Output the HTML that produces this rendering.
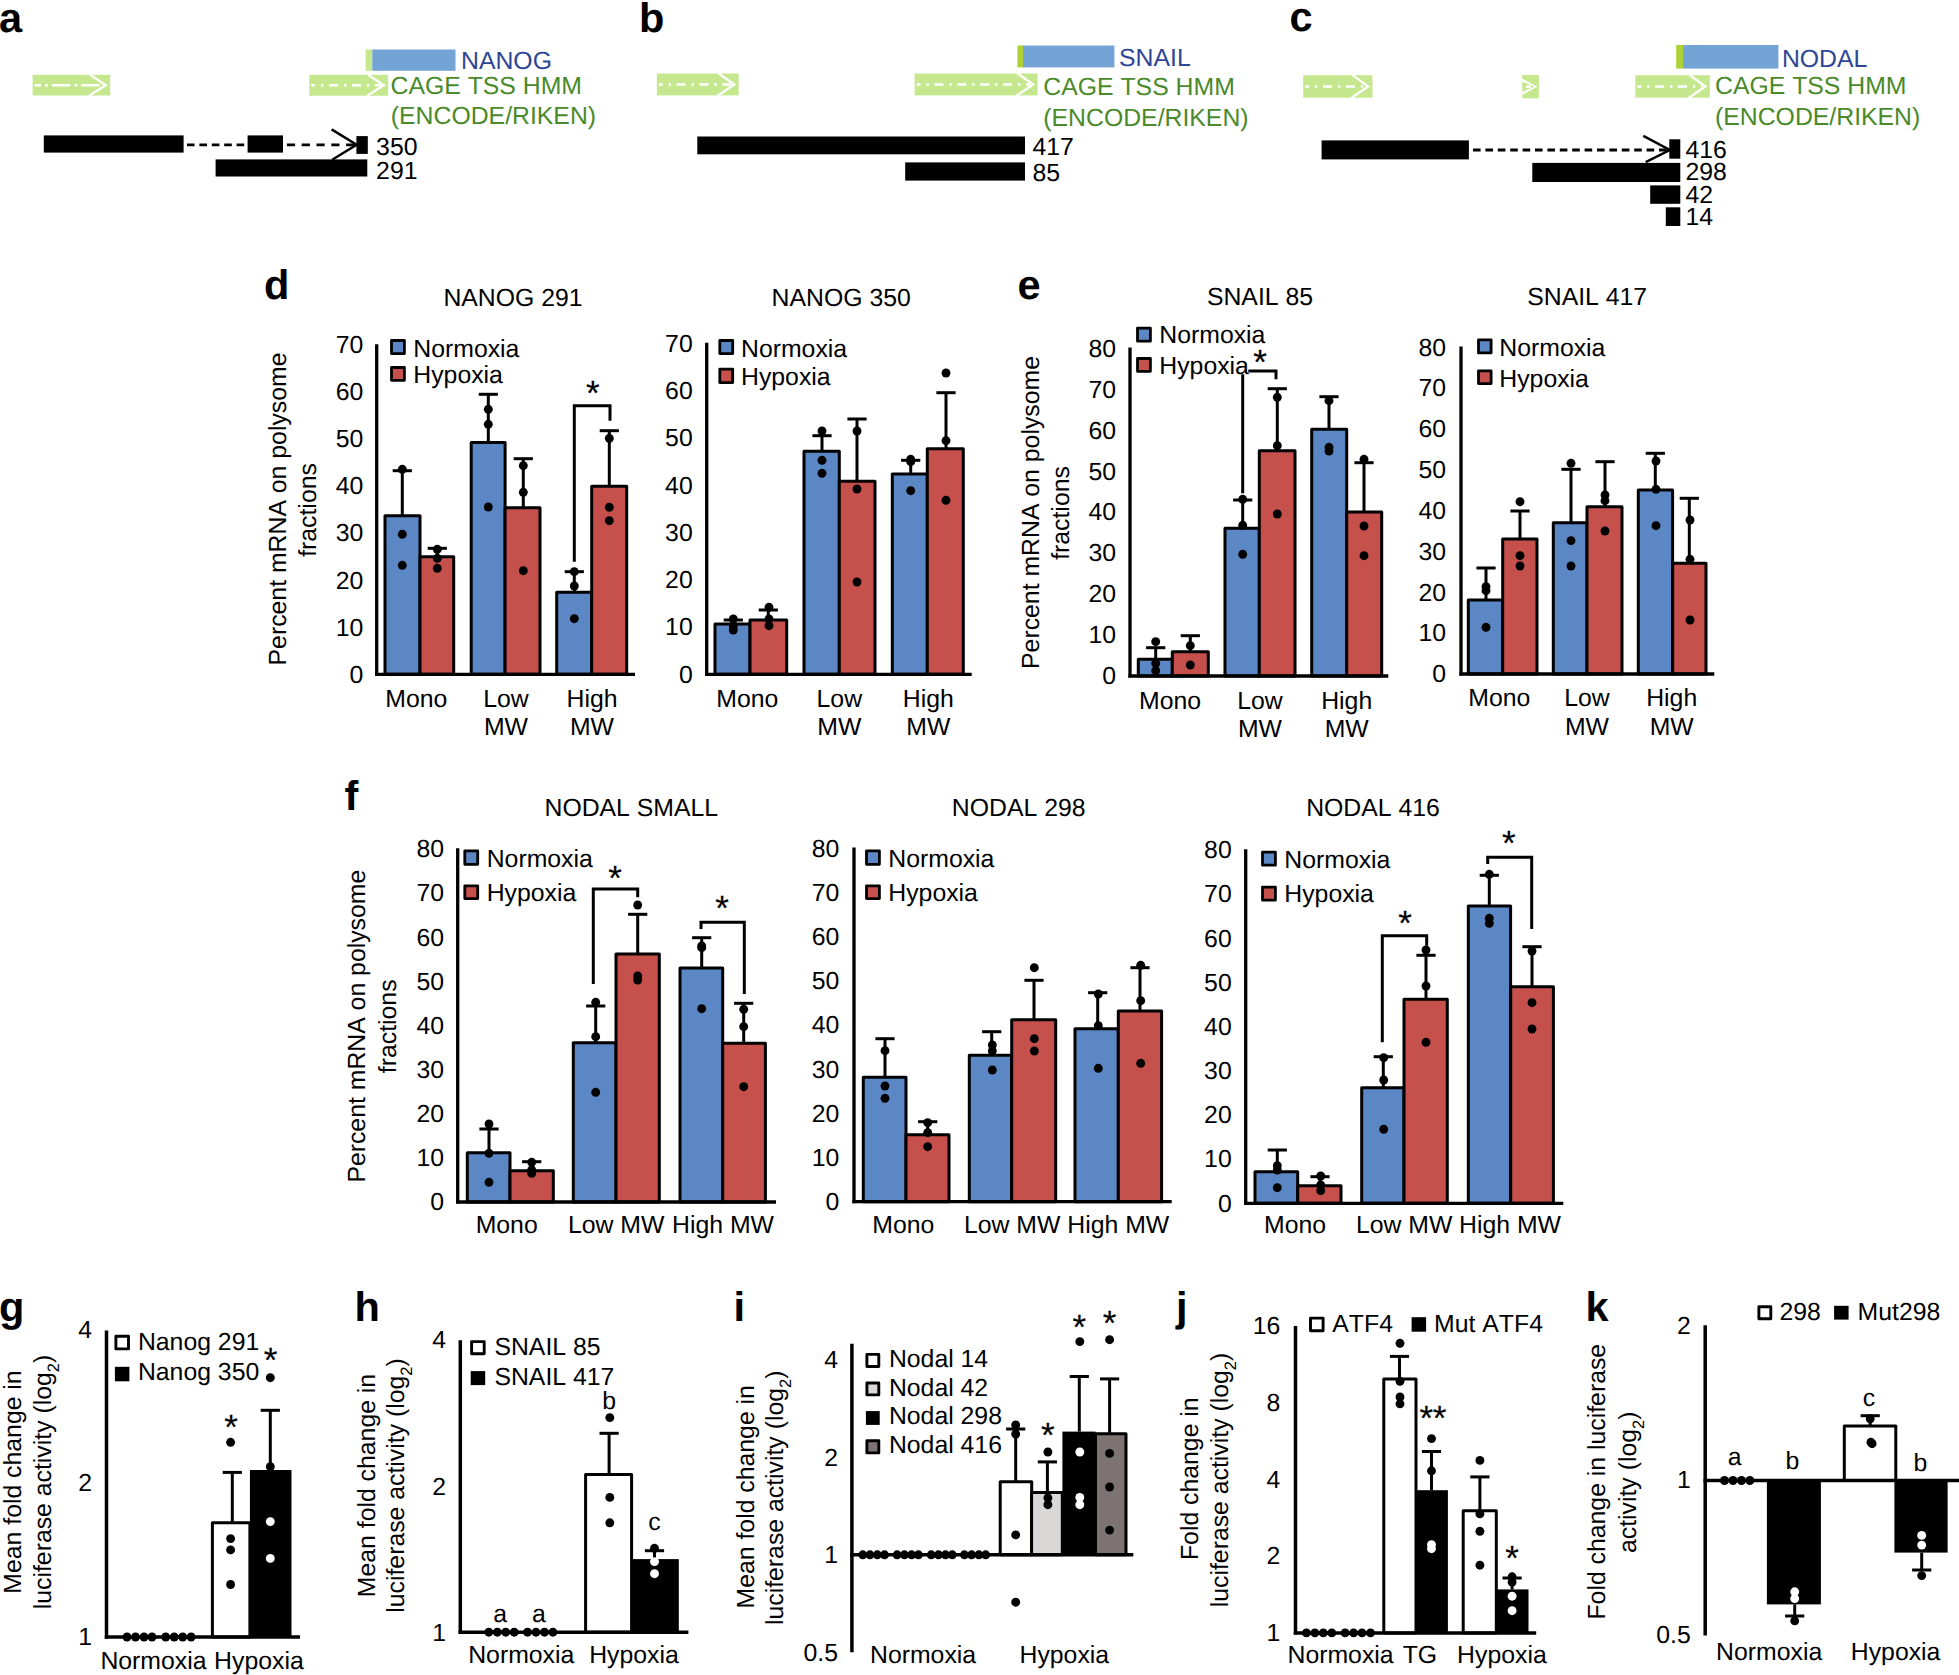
<!DOCTYPE html>
<html><head><meta charset="utf-8"><title>Figure</title>
<style>
html,body{margin:0;padding:0;background:#fff;}
svg{display:block;font-family:"Liberation Sans",Arial,Helvetica,sans-serif;font-kerning:none;text-rendering:geometricPrecision;}
</style></head>
<body>
<svg width="1959" height="1675" viewBox="0 0 1959 1675">
<rect width="1959" height="1675" fill="#fff"/>
<rect x="385.0" y="515.7" width="35.0" height="158.6" fill="#5b87c5" stroke="#000" stroke-width="3.0" stroke-linejoin="round"/>
<rect x="420.0" y="556.7" width="33.7" height="117.6" fill="#c5504c" stroke="#000" stroke-width="3.0" stroke-linejoin="round"/>
<rect x="471.2" y="442.5" width="33.9" height="231.8" fill="#5b87c5" stroke="#000" stroke-width="3.0" stroke-linejoin="round"/>
<rect x="505.1" y="507.7" width="34.9" height="166.6" fill="#c5504c" stroke="#000" stroke-width="3.0" stroke-linejoin="round"/>
<rect x="556.7" y="592.3" width="35.0" height="82.0" fill="#5b87c5" stroke="#000" stroke-width="3.0" stroke-linejoin="round"/>
<rect x="591.7" y="486.3" width="35.0" height="188.0" fill="#c5504c" stroke="#000" stroke-width="3.0" stroke-linejoin="round"/>
<line x1="376.7" y1="344.3" x2="376.7" y2="675.9" stroke="#000" stroke-width="3.3"/>
<line x1="375.1" y1="674.3" x2="635.0" y2="674.3" stroke="#000" stroke-width="3.3"/>
<line x1="402.3" y1="470.7" x2="402.3" y2="515.0" stroke="#000" stroke-width="3.0"/>
<line x1="392.7" y1="470.7" x2="411.9" y2="470.7" stroke="#000" stroke-width="3.0"/>
<line x1="437.3" y1="548.3" x2="437.3" y2="556.0" stroke="#000" stroke-width="3.0"/>
<line x1="427.7" y1="548.3" x2="446.9" y2="548.3" stroke="#000" stroke-width="3.0"/>
<line x1="488.3" y1="394.3" x2="488.3" y2="442.0" stroke="#000" stroke-width="3.0"/>
<line x1="478.7" y1="394.3" x2="497.9" y2="394.3" stroke="#000" stroke-width="3.0"/>
<line x1="523.3" y1="458.7" x2="523.3" y2="507.7" stroke="#000" stroke-width="3.0"/>
<line x1="513.7" y1="458.7" x2="532.9" y2="458.7" stroke="#000" stroke-width="3.0"/>
<line x1="574.3" y1="571.7" x2="574.3" y2="592.3" stroke="#000" stroke-width="3.0"/>
<line x1="564.7" y1="571.7" x2="583.9" y2="571.7" stroke="#000" stroke-width="3.0"/>
<line x1="609.3" y1="430.7" x2="609.3" y2="486.3" stroke="#000" stroke-width="3.0"/>
<line x1="599.7" y1="430.7" x2="618.9" y2="430.7" stroke="#000" stroke-width="3.0"/>
<circle cx="402.3" cy="469.3" r="4.45" fill="#000"/>
<circle cx="402.3" cy="534.3" r="4.45" fill="#000"/>
<circle cx="402.3" cy="565.3" r="4.45" fill="#000"/>
<circle cx="437.3" cy="549.3" r="4.45" fill="#000"/>
<circle cx="437.3" cy="558.3" r="4.45" fill="#000"/>
<circle cx="437.3" cy="568.3" r="4.45" fill="#000"/>
<circle cx="488.3" cy="409.3" r="4.45" fill="#000"/>
<circle cx="488.3" cy="424.3" r="4.45" fill="#000"/>
<circle cx="488.3" cy="507.0" r="4.45" fill="#000"/>
<circle cx="523.3" cy="465.7" r="4.45" fill="#000"/>
<circle cx="523.3" cy="492.3" r="4.45" fill="#000"/>
<circle cx="523.3" cy="570.7" r="4.45" fill="#000"/>
<circle cx="574.3" cy="571.7" r="4.45" fill="#000"/>
<circle cx="574.3" cy="586.0" r="4.45" fill="#000"/>
<circle cx="574.3" cy="618.7" r="4.45" fill="#000"/>
<circle cx="609.3" cy="438.3" r="4.45" fill="#000"/>
<circle cx="609.3" cy="507.3" r="4.45" fill="#000"/>
<circle cx="609.3" cy="520.7" r="4.45" fill="#000"/>
<polyline points="574.3,561.7 574.3,405.7 610.0,405.7 610.0,420.7" fill="none" stroke="#000" stroke-width="3.0"/>
<text x="592.7" y="405.3" font-size="35" text-anchor="middle" fill="#000" stroke="#000" stroke-width="0.2">*</text>
<text x="363.3" y="682.6" font-size="24.8" text-anchor="end" fill="#000">0</text>
<text x="363.3" y="635.5" font-size="24.8" text-anchor="end" fill="#000">10</text>
<text x="363.3" y="588.5" font-size="24.8" text-anchor="end" fill="#000">20</text>
<text x="363.3" y="541.4" font-size="24.8" text-anchor="end" fill="#000">30</text>
<text x="363.3" y="494.4" font-size="24.8" text-anchor="end" fill="#000">40</text>
<text x="363.3" y="447.4" font-size="24.8" text-anchor="end" fill="#000">50</text>
<text x="363.3" y="400.3" font-size="24.8" text-anchor="end" fill="#000">60</text>
<text x="363.3" y="353.3" font-size="24.8" text-anchor="end" fill="#000">70</text>
<rect x="391.5" y="340.5" width="12.9" height="13.1" fill="#5b87c5" stroke="#000" stroke-width="2.8" stroke-linejoin="round"/>
<text x="413.3" y="356.7" font-size="24.8" text-anchor="start" fill="#000">Normoxia</text>
<rect x="391.5" y="367.5" width="12.9" height="12.8" fill="#c5504c" stroke="#000" stroke-width="2.8" stroke-linejoin="round"/>
<text x="413.3" y="382.7" font-size="24.8" text-anchor="start" fill="#000">Hypoxia</text>
<text x="513.0" y="306.2" font-size="24.8" text-anchor="middle" fill="#000">NANOG 291</text>
<text x="416.3" y="706.9" font-size="24.8" text-anchor="middle" fill="#000">Mono</text>
<text x="506.0" y="706.9" font-size="24.8" text-anchor="middle" fill="#000">Low</text>
<text x="506.0" y="735.2" font-size="24.8" text-anchor="middle" fill="#000">MW</text>
<text x="592.0" y="706.9" font-size="24.8" text-anchor="middle" fill="#000">High</text>
<text x="592.0" y="735.2" font-size="24.8" text-anchor="middle" fill="#000">MW</text>
<text transform="translate(285.6,509.0) rotate(-90)" font-size="24.8" text-anchor="middle">Percent mRNA on polysome</text>
<text transform="translate(315.6,510.0) rotate(-90)" font-size="24.8" text-anchor="middle">fractions</text>
<rect x="715.0" y="624.0" width="35.0" height="50.3" fill="#5b87c5" stroke="#000" stroke-width="3.0" stroke-linejoin="round"/>
<rect x="750.0" y="620.0" width="36.7" height="54.3" fill="#c5504c" stroke="#000" stroke-width="3.0" stroke-linejoin="round"/>
<rect x="804.0" y="451.3" width="35.3" height="223.0" fill="#5b87c5" stroke="#000" stroke-width="3.0" stroke-linejoin="round"/>
<rect x="839.3" y="481.3" width="35.7" height="193.0" fill="#c5504c" stroke="#000" stroke-width="3.0" stroke-linejoin="round"/>
<rect x="892.3" y="474.0" width="35.0" height="200.3" fill="#5b87c5" stroke="#000" stroke-width="3.0" stroke-linejoin="round"/>
<rect x="927.3" y="448.7" width="36.0" height="225.6" fill="#c5504c" stroke="#000" stroke-width="3.0" stroke-linejoin="round"/>
<line x1="706.7" y1="342.8" x2="706.7" y2="675.9" stroke="#000" stroke-width="3.3"/>
<line x1="705.1" y1="674.3" x2="971.7" y2="674.3" stroke="#000" stroke-width="3.3"/>
<line x1="733.3" y1="620.0" x2="733.3" y2="624.0" stroke="#000" stroke-width="3.0"/>
<line x1="723.7" y1="620.0" x2="742.9" y2="620.0" stroke="#000" stroke-width="3.0"/>
<line x1="768.3" y1="610.0" x2="768.3" y2="620.0" stroke="#000" stroke-width="3.0"/>
<line x1="758.7" y1="610.0" x2="777.9" y2="610.0" stroke="#000" stroke-width="3.0"/>
<line x1="822.0" y1="435.7" x2="822.0" y2="451.3" stroke="#000" stroke-width="3.0"/>
<line x1="812.4" y1="435.7" x2="831.6" y2="435.7" stroke="#000" stroke-width="3.0"/>
<line x1="857.0" y1="419.0" x2="857.0" y2="481.3" stroke="#000" stroke-width="3.0"/>
<line x1="847.4" y1="419.0" x2="866.6" y2="419.0" stroke="#000" stroke-width="3.0"/>
<line x1="910.7" y1="460.3" x2="910.7" y2="474.0" stroke="#000" stroke-width="3.0"/>
<line x1="901.1" y1="460.3" x2="920.3" y2="460.3" stroke="#000" stroke-width="3.0"/>
<line x1="946.0" y1="392.7" x2="946.0" y2="448.7" stroke="#000" stroke-width="3.0"/>
<line x1="936.4" y1="392.7" x2="955.6" y2="392.7" stroke="#000" stroke-width="3.0"/>
<circle cx="733.3" cy="619.0" r="4.45" fill="#000"/>
<circle cx="733.3" cy="626.0" r="4.45" fill="#000"/>
<circle cx="733.3" cy="630.0" r="4.45" fill="#000"/>
<circle cx="769.0" cy="607.3" r="4.45" fill="#000"/>
<circle cx="769.0" cy="619.0" r="4.45" fill="#000"/>
<circle cx="769.0" cy="625.7" r="4.45" fill="#000"/>
<circle cx="822.0" cy="431.0" r="4.45" fill="#000"/>
<circle cx="822.0" cy="460.3" r="4.45" fill="#000"/>
<circle cx="822.0" cy="473.3" r="4.45" fill="#000"/>
<circle cx="857.0" cy="431.0" r="4.45" fill="#000"/>
<circle cx="857.0" cy="489.0" r="4.45" fill="#000"/>
<circle cx="857.0" cy="582.0" r="4.45" fill="#000"/>
<circle cx="910.7" cy="459.3" r="4.45" fill="#000"/>
<circle cx="910.7" cy="461.7" r="4.45" fill="#000"/>
<circle cx="910.7" cy="490.7" r="4.45" fill="#000"/>
<circle cx="946.0" cy="373.0" r="4.45" fill="#000"/>
<circle cx="946.0" cy="440.7" r="4.45" fill="#000"/>
<circle cx="946.0" cy="500.3" r="4.45" fill="#000"/>
<text x="692.7" y="682.6" font-size="24.8" text-anchor="end" fill="#000">0</text>
<text x="692.7" y="635.3" font-size="24.8" text-anchor="end" fill="#000">10</text>
<text x="692.7" y="588.1" font-size="24.8" text-anchor="end" fill="#000">20</text>
<text x="692.7" y="540.8" font-size="24.8" text-anchor="end" fill="#000">30</text>
<text x="692.7" y="493.5" font-size="24.8" text-anchor="end" fill="#000">40</text>
<text x="692.7" y="446.3" font-size="24.8" text-anchor="end" fill="#000">50</text>
<text x="692.7" y="399.0" font-size="24.8" text-anchor="end" fill="#000">60</text>
<text x="692.7" y="351.8" font-size="24.8" text-anchor="end" fill="#000">70</text>
<rect x="719.8" y="340.5" width="12.9" height="13.1" fill="#5b87c5" stroke="#000" stroke-width="2.8" stroke-linejoin="round"/>
<text x="741.0" y="356.7" font-size="24.8" text-anchor="start" fill="#000">Normoxia</text>
<rect x="719.8" y="369.1" width="12.9" height="13.5" fill="#c5504c" stroke="#000" stroke-width="2.8" stroke-linejoin="round"/>
<text x="741.0" y="385.0" font-size="24.8" text-anchor="start" fill="#000">Hypoxia</text>
<text x="841.2" y="306.2" font-size="24.8" text-anchor="middle" fill="#000">NANOG 350</text>
<text x="747.3" y="706.9" font-size="24.8" text-anchor="middle" fill="#000">Mono</text>
<text x="839.3" y="706.9" font-size="24.8" text-anchor="middle" fill="#000">Low</text>
<text x="839.3" y="735.2" font-size="24.8" text-anchor="middle" fill="#000">MW</text>
<text x="928.3" y="706.9" font-size="24.8" text-anchor="middle" fill="#000">High</text>
<text x="928.3" y="735.2" font-size="24.8" text-anchor="middle" fill="#000">MW</text>
<rect x="1138.3" y="659.3" width="34.0" height="16.7" fill="#5b87c5" stroke="#000" stroke-width="3.0" stroke-linejoin="round"/>
<rect x="1172.3" y="651.7" width="36.0" height="24.3" fill="#c5504c" stroke="#000" stroke-width="3.0" stroke-linejoin="round"/>
<rect x="1225.0" y="528.3" width="34.3" height="147.7" fill="#5b87c5" stroke="#000" stroke-width="3.0" stroke-linejoin="round"/>
<rect x="1259.3" y="450.7" width="35.7" height="225.3" fill="#c5504c" stroke="#000" stroke-width="3.0" stroke-linejoin="round"/>
<rect x="1311.7" y="429.3" width="35.0" height="246.7" fill="#5b87c5" stroke="#000" stroke-width="3.0" stroke-linejoin="round"/>
<rect x="1346.7" y="512.0" width="35.0" height="164.0" fill="#c5504c" stroke="#000" stroke-width="3.0" stroke-linejoin="round"/>
<line x1="1130.0" y1="347.6" x2="1130.0" y2="677.6" stroke="#000" stroke-width="3.3"/>
<line x1="1128.4" y1="676.0" x2="1388.3" y2="676.0" stroke="#000" stroke-width="3.3"/>
<line x1="1155.7" y1="647.7" x2="1155.7" y2="659.3" stroke="#000" stroke-width="3.0"/>
<line x1="1146.1" y1="647.7" x2="1165.3" y2="647.7" stroke="#000" stroke-width="3.0"/>
<line x1="1190.3" y1="635.7" x2="1190.3" y2="651.7" stroke="#000" stroke-width="3.0"/>
<line x1="1180.7" y1="635.7" x2="1199.9" y2="635.7" stroke="#000" stroke-width="3.0"/>
<line x1="1242.7" y1="500.0" x2="1242.7" y2="528.3" stroke="#000" stroke-width="3.0"/>
<line x1="1233.1" y1="500.0" x2="1252.3" y2="500.0" stroke="#000" stroke-width="3.0"/>
<line x1="1277.3" y1="388.7" x2="1277.3" y2="450.7" stroke="#000" stroke-width="3.0"/>
<line x1="1267.7" y1="388.7" x2="1286.9" y2="388.7" stroke="#000" stroke-width="3.0"/>
<line x1="1329.0" y1="396.7" x2="1329.0" y2="429.3" stroke="#000" stroke-width="3.0"/>
<line x1="1319.4" y1="396.7" x2="1338.6" y2="396.7" stroke="#000" stroke-width="3.0"/>
<line x1="1364.0" y1="462.7" x2="1364.0" y2="512.0" stroke="#000" stroke-width="3.0"/>
<line x1="1354.4" y1="462.7" x2="1373.6" y2="462.7" stroke="#000" stroke-width="3.0"/>
<circle cx="1155.7" cy="641.7" r="4.45" fill="#000"/>
<circle cx="1155.7" cy="663.3" r="4.45" fill="#000"/>
<circle cx="1155.7" cy="670.7" r="4.45" fill="#000"/>
<circle cx="1190.3" cy="645.7" r="4.45" fill="#000"/>
<circle cx="1190.3" cy="665.0" r="4.45" fill="#000"/>
<circle cx="1242.7" cy="499.3" r="4.45" fill="#000"/>
<circle cx="1242.7" cy="525.3" r="4.45" fill="#000"/>
<circle cx="1242.7" cy="554.3" r="4.45" fill="#000"/>
<circle cx="1277.3" cy="397.3" r="4.45" fill="#000"/>
<circle cx="1277.3" cy="445.7" r="4.45" fill="#000"/>
<circle cx="1277.3" cy="514.0" r="4.45" fill="#000"/>
<circle cx="1329.0" cy="400.7" r="4.45" fill="#000"/>
<circle cx="1329.0" cy="447.3" r="4.45" fill="#000"/>
<circle cx="1329.0" cy="451.0" r="4.45" fill="#000"/>
<circle cx="1364.0" cy="459.3" r="4.45" fill="#000"/>
<circle cx="1364.0" cy="526.0" r="4.45" fill="#000"/>
<circle cx="1364.0" cy="555.7" r="4.45" fill="#000"/>
<polyline points="1242.7,493.3 1242.7,374.3" fill="none" stroke="#000" stroke-width="3.0"/>
<polyline points="1248.3,371.0 1276.0,371.0 1276.0,379.3" fill="none" stroke="#000" stroke-width="3.0"/>
<text x="1260.0" y="373.6" font-size="35" text-anchor="middle" fill="#000" stroke="#000" stroke-width="0.2">*</text>
<text x="1116.0" y="684.3" font-size="24.8" text-anchor="end" fill="#000">0</text>
<text x="1116.0" y="643.3" font-size="24.8" text-anchor="end" fill="#000">10</text>
<text x="1116.0" y="602.4" font-size="24.8" text-anchor="end" fill="#000">20</text>
<text x="1116.0" y="561.4" font-size="24.8" text-anchor="end" fill="#000">30</text>
<text x="1116.0" y="520.4" font-size="24.8" text-anchor="end" fill="#000">40</text>
<text x="1116.0" y="479.5" font-size="24.8" text-anchor="end" fill="#000">50</text>
<text x="1116.0" y="438.5" font-size="24.8" text-anchor="end" fill="#000">60</text>
<text x="1116.0" y="397.5" font-size="24.8" text-anchor="end" fill="#000">70</text>
<text x="1116.0" y="356.6" font-size="24.8" text-anchor="end" fill="#000">80</text>
<rect x="1137.5" y="328.1" width="12.9" height="13.1" fill="#5b87c5" stroke="#000" stroke-width="2.8" stroke-linejoin="round"/>
<text x="1159.3" y="343.0" font-size="24.8" text-anchor="start" fill="#000">Normoxia</text>
<rect x="1137.5" y="358.5" width="12.9" height="12.8" fill="#c5504c" stroke="#000" stroke-width="2.8" stroke-linejoin="round"/>
<text x="1159.3" y="373.7" font-size="24.8" text-anchor="start" fill="#000">Hypoxia</text>
<text x="1260.0" y="304.8" font-size="24.8" text-anchor="middle" fill="#000">SNAIL 85</text>
<text x="1170.0" y="708.9" font-size="24.8" text-anchor="middle" fill="#000">Mono</text>
<text x="1260.0" y="708.9" font-size="24.8" text-anchor="middle" fill="#000">Low</text>
<text x="1260.0" y="737.2" font-size="24.8" text-anchor="middle" fill="#000">MW</text>
<text x="1346.7" y="708.9" font-size="24.8" text-anchor="middle" fill="#000">High</text>
<text x="1346.7" y="737.2" font-size="24.8" text-anchor="middle" fill="#000">MW</text>
<text transform="translate(1039.3,512.5) rotate(-90)" font-size="24.8" text-anchor="middle">Percent mRNA on polysome</text>
<text transform="translate(1069.3,513.0) rotate(-90)" font-size="24.8" text-anchor="middle">fractions</text>
<rect x="1468.3" y="600.0" width="34.3" height="74.0" fill="#5b87c5" stroke="#000" stroke-width="3.0" stroke-linejoin="round"/>
<rect x="1502.7" y="539.0" width="34.3" height="135.0" fill="#c5504c" stroke="#000" stroke-width="3.0" stroke-linejoin="round"/>
<rect x="1553.3" y="522.7" width="33.7" height="151.3" fill="#5b87c5" stroke="#000" stroke-width="3.0" stroke-linejoin="round"/>
<rect x="1587.0" y="506.7" width="35.0" height="167.3" fill="#c5504c" stroke="#000" stroke-width="3.0" stroke-linejoin="round"/>
<rect x="1638.3" y="490.0" width="34.3" height="184.0" fill="#5b87c5" stroke="#000" stroke-width="3.0" stroke-linejoin="round"/>
<rect x="1672.7" y="563.3" width="33.3" height="110.7" fill="#c5504c" stroke="#000" stroke-width="3.0" stroke-linejoin="round"/>
<line x1="1461.0" y1="346.6" x2="1461.0" y2="675.6" stroke="#000" stroke-width="3.3"/>
<line x1="1459.4" y1="674.0" x2="1714.3" y2="674.0" stroke="#000" stroke-width="3.3"/>
<line x1="1486.0" y1="568.0" x2="1486.0" y2="600.0" stroke="#000" stroke-width="3.0"/>
<line x1="1476.4" y1="568.0" x2="1495.6" y2="568.0" stroke="#000" stroke-width="3.0"/>
<line x1="1520.0" y1="511.0" x2="1520.0" y2="539.0" stroke="#000" stroke-width="3.0"/>
<line x1="1510.4" y1="511.0" x2="1529.6" y2="511.0" stroke="#000" stroke-width="3.0"/>
<line x1="1571.0" y1="469.3" x2="1571.0" y2="522.7" stroke="#000" stroke-width="3.0"/>
<line x1="1561.4" y1="469.3" x2="1580.6" y2="469.3" stroke="#000" stroke-width="3.0"/>
<line x1="1605.0" y1="461.7" x2="1605.0" y2="506.7" stroke="#000" stroke-width="3.0"/>
<line x1="1595.4" y1="461.7" x2="1614.6" y2="461.7" stroke="#000" stroke-width="3.0"/>
<line x1="1655.3" y1="453.3" x2="1655.3" y2="490.0" stroke="#000" stroke-width="3.0"/>
<line x1="1645.7" y1="453.3" x2="1664.9" y2="453.3" stroke="#000" stroke-width="3.0"/>
<line x1="1689.3" y1="498.3" x2="1689.3" y2="563.3" stroke="#000" stroke-width="3.0"/>
<line x1="1679.7" y1="498.3" x2="1698.9" y2="498.3" stroke="#000" stroke-width="3.0"/>
<circle cx="1486.0" cy="586.7" r="4.45" fill="#000"/>
<circle cx="1486.0" cy="590.7" r="4.45" fill="#000"/>
<circle cx="1486.0" cy="627.3" r="4.45" fill="#000"/>
<circle cx="1520.0" cy="501.7" r="4.45" fill="#000"/>
<circle cx="1520.0" cy="555.7" r="4.45" fill="#000"/>
<circle cx="1520.0" cy="566.0" r="4.45" fill="#000"/>
<circle cx="1571.0" cy="463.3" r="4.45" fill="#000"/>
<circle cx="1571.0" cy="540.7" r="4.45" fill="#000"/>
<circle cx="1571.0" cy="566.0" r="4.45" fill="#000"/>
<circle cx="1605.0" cy="495.0" r="4.45" fill="#000"/>
<circle cx="1605.0" cy="500.7" r="4.45" fill="#000"/>
<circle cx="1605.0" cy="531.0" r="4.45" fill="#000"/>
<circle cx="1656.0" cy="461.0" r="4.45" fill="#000"/>
<circle cx="1656.0" cy="489.3" r="4.45" fill="#000"/>
<circle cx="1656.0" cy="525.7" r="4.45" fill="#000"/>
<circle cx="1690.0" cy="520.0" r="4.45" fill="#000"/>
<circle cx="1690.0" cy="559.3" r="4.45" fill="#000"/>
<circle cx="1690.0" cy="620.0" r="4.45" fill="#000"/>
<text x="1446.0" y="682.3" font-size="24.8" text-anchor="end" fill="#000">0</text>
<text x="1446.0" y="641.4" font-size="24.8" text-anchor="end" fill="#000">10</text>
<text x="1446.0" y="600.6" font-size="24.8" text-anchor="end" fill="#000">20</text>
<text x="1446.0" y="559.8" font-size="24.8" text-anchor="end" fill="#000">30</text>
<text x="1446.0" y="518.9" font-size="24.8" text-anchor="end" fill="#000">40</text>
<text x="1446.0" y="478.1" font-size="24.8" text-anchor="end" fill="#000">50</text>
<text x="1446.0" y="437.3" font-size="24.8" text-anchor="end" fill="#000">60</text>
<text x="1446.0" y="396.4" font-size="24.8" text-anchor="end" fill="#000">70</text>
<text x="1446.0" y="355.6" font-size="24.8" text-anchor="end" fill="#000">80</text>
<rect x="1478.5" y="339.8" width="12.6" height="13.1" fill="#5b87c5" stroke="#000" stroke-width="2.8" stroke-linejoin="round"/>
<text x="1499.3" y="355.7" font-size="24.8" text-anchor="start" fill="#000">Normoxia</text>
<rect x="1478.5" y="370.8" width="12.6" height="12.8" fill="#c5504c" stroke="#000" stroke-width="2.8" stroke-linejoin="round"/>
<text x="1499.3" y="386.7" font-size="24.8" text-anchor="start" fill="#000">Hypoxia</text>
<text x="1587.2" y="304.8" font-size="24.8" text-anchor="middle" fill="#000">SNAIL 417</text>
<text x="1499.3" y="706.2" font-size="24.8" text-anchor="middle" fill="#000">Mono</text>
<text x="1587.0" y="706.2" font-size="24.8" text-anchor="middle" fill="#000">Low</text>
<text x="1587.0" y="734.5" font-size="24.8" text-anchor="middle" fill="#000">MW</text>
<text x="1671.7" y="706.2" font-size="24.8" text-anchor="middle" fill="#000">High</text>
<text x="1671.7" y="734.5" font-size="24.8" text-anchor="middle" fill="#000">MW</text>
<rect x="467.3" y="1152.7" width="42.7" height="49.3" fill="#5b87c5" stroke="#000" stroke-width="3.0" stroke-linejoin="round"/>
<rect x="510.0" y="1170.7" width="43.3" height="31.3" fill="#c5504c" stroke="#000" stroke-width="3.0" stroke-linejoin="round"/>
<rect x="573.3" y="1042.7" width="42.7" height="159.3" fill="#5b87c5" stroke="#000" stroke-width="3.0" stroke-linejoin="round"/>
<rect x="616.0" y="954.0" width="43.3" height="248.0" fill="#c5504c" stroke="#000" stroke-width="3.0" stroke-linejoin="round"/>
<rect x="680.0" y="968.0" width="42.7" height="234.0" fill="#5b87c5" stroke="#000" stroke-width="3.0" stroke-linejoin="round"/>
<rect x="722.7" y="1043.3" width="42.7" height="158.7" fill="#c5504c" stroke="#000" stroke-width="3.0" stroke-linejoin="round"/>
<line x1="457.7" y1="848.3" x2="457.7" y2="1203.6" stroke="#000" stroke-width="3.3"/>
<line x1="456.1" y1="1202.0" x2="776.0" y2="1202.0" stroke="#000" stroke-width="3.3"/>
<line x1="489.0" y1="1129.0" x2="489.0" y2="1152.7" stroke="#000" stroke-width="3.0"/>
<line x1="479.4" y1="1129.0" x2="498.6" y2="1129.0" stroke="#000" stroke-width="3.0"/>
<line x1="531.7" y1="1161.7" x2="531.7" y2="1170.7" stroke="#000" stroke-width="3.0"/>
<line x1="522.1" y1="1161.7" x2="541.3" y2="1161.7" stroke="#000" stroke-width="3.0"/>
<line x1="595.7" y1="1006.0" x2="595.7" y2="1042.7" stroke="#000" stroke-width="3.0"/>
<line x1="586.1" y1="1006.0" x2="605.3" y2="1006.0" stroke="#000" stroke-width="3.0"/>
<line x1="637.7" y1="914.3" x2="637.7" y2="954.0" stroke="#000" stroke-width="3.0"/>
<line x1="628.1" y1="914.3" x2="647.3" y2="914.3" stroke="#000" stroke-width="3.0"/>
<line x1="701.7" y1="937.7" x2="701.7" y2="968.0" stroke="#000" stroke-width="3.0"/>
<line x1="692.1" y1="937.7" x2="711.3" y2="937.7" stroke="#000" stroke-width="3.0"/>
<line x1="743.7" y1="1003.3" x2="743.7" y2="1043.3" stroke="#000" stroke-width="3.0"/>
<line x1="734.1" y1="1003.3" x2="753.3" y2="1003.3" stroke="#000" stroke-width="3.0"/>
<circle cx="489.0" cy="1124.0" r="4.45" fill="#000"/>
<circle cx="489.0" cy="1153.3" r="4.45" fill="#000"/>
<circle cx="489.0" cy="1182.3" r="4.45" fill="#000"/>
<circle cx="531.7" cy="1162.3" r="4.45" fill="#000"/>
<circle cx="531.7" cy="1170.0" r="4.45" fill="#000"/>
<circle cx="531.7" cy="1173.3" r="4.45" fill="#000"/>
<circle cx="595.7" cy="1002.3" r="4.45" fill="#000"/>
<circle cx="595.7" cy="1036.7" r="4.45" fill="#000"/>
<circle cx="595.7" cy="1092.3" r="4.45" fill="#000"/>
<circle cx="637.7" cy="905.0" r="4.45" fill="#000"/>
<circle cx="637.7" cy="976.0" r="4.45" fill="#000"/>
<circle cx="637.7" cy="980.0" r="4.45" fill="#000"/>
<circle cx="701.7" cy="946.0" r="4.45" fill="#000"/>
<circle cx="701.7" cy="947.7" r="4.45" fill="#000"/>
<circle cx="701.7" cy="1008.7" r="4.45" fill="#000"/>
<circle cx="743.7" cy="1009.3" r="4.45" fill="#000"/>
<circle cx="743.7" cy="1026.7" r="4.45" fill="#000"/>
<circle cx="743.7" cy="1086.7" r="4.45" fill="#000"/>
<polyline points="593.3,984.0 593.3,889.0 637.7,889.0 637.7,897.3" fill="none" stroke="#000" stroke-width="3.0"/>
<polyline points="701.0,929.0 701.0,922.3 744.3,922.3 744.3,994.0" fill="none" stroke="#000" stroke-width="3.0"/>
<text x="615.0" y="890.3" font-size="35" text-anchor="middle" fill="#000" stroke="#000" stroke-width="0.2">*</text>
<text x="722.0" y="920.3" font-size="35" text-anchor="middle" fill="#000" stroke="#000" stroke-width="0.2">*</text>
<text x="444.0" y="1210.3" font-size="24.8" text-anchor="end" fill="#000">0</text>
<text x="444.0" y="1166.2" font-size="24.8" text-anchor="end" fill="#000">10</text>
<text x="444.0" y="1122.0" font-size="24.8" text-anchor="end" fill="#000">20</text>
<text x="444.0" y="1077.9" font-size="24.8" text-anchor="end" fill="#000">30</text>
<text x="444.0" y="1033.8" font-size="24.8" text-anchor="end" fill="#000">40</text>
<text x="444.0" y="989.7" font-size="24.8" text-anchor="end" fill="#000">50</text>
<text x="444.0" y="945.5" font-size="24.8" text-anchor="end" fill="#000">60</text>
<text x="444.0" y="901.4" font-size="24.8" text-anchor="end" fill="#000">70</text>
<text x="444.0" y="857.3" font-size="24.8" text-anchor="end" fill="#000">80</text>
<rect x="464.8" y="850.8" width="12.9" height="13.5" fill="#5b87c5" stroke="#000" stroke-width="2.8" stroke-linejoin="round"/>
<text x="486.7" y="866.7" font-size="24.8" text-anchor="start" fill="#000">Normoxia</text>
<rect x="464.8" y="885.8" width="12.9" height="12.8" fill="#c5504c" stroke="#000" stroke-width="2.8" stroke-linejoin="round"/>
<text x="486.7" y="901.0" font-size="24.8" text-anchor="start" fill="#000">Hypoxia</text>
<text x="631.3" y="816.2" font-size="24.8" text-anchor="middle" fill="#000">NODAL SMALL</text>
<text x="506.7" y="1233.3" font-size="24.8" text-anchor="middle" fill="#000">Mono</text>
<text x="616.2" y="1233.3" font-size="24.8" text-anchor="middle" fill="#000">Low MW</text>
<text x="723.0" y="1233.3" font-size="24.8" text-anchor="middle" fill="#000">High MW</text>
<text transform="translate(364.9,1026.2) rotate(-90)" font-size="24.8" text-anchor="middle">Percent mRNA on polysome</text>
<text transform="translate(395.6,1026.3) rotate(-90)" font-size="24.8" text-anchor="middle">fractions</text>
<rect x="863.3" y="1077.3" width="42.7" height="124.4" fill="#5b87c5" stroke="#000" stroke-width="3.0" stroke-linejoin="round"/>
<rect x="906.0" y="1134.7" width="43.0" height="67.0" fill="#c5504c" stroke="#000" stroke-width="3.0" stroke-linejoin="round"/>
<rect x="969.3" y="1055.3" width="42.3" height="146.4" fill="#5b87c5" stroke="#000" stroke-width="3.0" stroke-linejoin="round"/>
<rect x="1011.7" y="1019.7" width="44.0" height="182.0" fill="#c5504c" stroke="#000" stroke-width="3.0" stroke-linejoin="round"/>
<rect x="1075.0" y="1028.7" width="43.3" height="173.0" fill="#5b87c5" stroke="#000" stroke-width="3.0" stroke-linejoin="round"/>
<rect x="1118.3" y="1011.0" width="43.3" height="190.7" fill="#c5504c" stroke="#000" stroke-width="3.0" stroke-linejoin="round"/>
<line x1="854.0" y1="847.6" x2="854.0" y2="1203.3" stroke="#000" stroke-width="3.3"/>
<line x1="852.4" y1="1201.7" x2="1171.7" y2="1201.7" stroke="#000" stroke-width="3.3"/>
<line x1="885.0" y1="1038.7" x2="885.0" y2="1077.3" stroke="#000" stroke-width="3.0"/>
<line x1="875.4" y1="1038.7" x2="894.6" y2="1038.7" stroke="#000" stroke-width="3.0"/>
<line x1="927.7" y1="1121.7" x2="927.7" y2="1134.7" stroke="#000" stroke-width="3.0"/>
<line x1="918.1" y1="1121.7" x2="937.3" y2="1121.7" stroke="#000" stroke-width="3.0"/>
<line x1="991.7" y1="1031.7" x2="991.7" y2="1055.3" stroke="#000" stroke-width="3.0"/>
<line x1="982.1" y1="1031.7" x2="1001.3" y2="1031.7" stroke="#000" stroke-width="3.0"/>
<line x1="1034.0" y1="980.3" x2="1034.0" y2="1019.7" stroke="#000" stroke-width="3.0"/>
<line x1="1024.4" y1="980.3" x2="1043.6" y2="980.3" stroke="#000" stroke-width="3.0"/>
<line x1="1097.7" y1="992.7" x2="1097.7" y2="1028.7" stroke="#000" stroke-width="3.0"/>
<line x1="1088.1" y1="992.7" x2="1107.3" y2="992.7" stroke="#000" stroke-width="3.0"/>
<line x1="1140.0" y1="967.7" x2="1140.0" y2="1011.0" stroke="#000" stroke-width="3.0"/>
<line x1="1130.4" y1="967.7" x2="1149.6" y2="967.7" stroke="#000" stroke-width="3.0"/>
<circle cx="885.0" cy="1050.7" r="4.45" fill="#000"/>
<circle cx="885.0" cy="1086.0" r="4.45" fill="#000"/>
<circle cx="885.0" cy="1098.3" r="4.45" fill="#000"/>
<circle cx="927.7" cy="1122.7" r="4.45" fill="#000"/>
<circle cx="927.7" cy="1132.7" r="4.45" fill="#000"/>
<circle cx="927.7" cy="1146.7" r="4.45" fill="#000"/>
<circle cx="992.3" cy="1045.0" r="4.45" fill="#000"/>
<circle cx="992.3" cy="1051.0" r="4.45" fill="#000"/>
<circle cx="992.3" cy="1070.0" r="4.45" fill="#000"/>
<circle cx="1034.3" cy="967.7" r="4.45" fill="#000"/>
<circle cx="1034.3" cy="1038.7" r="4.45" fill="#000"/>
<circle cx="1034.3" cy="1051.0" r="4.45" fill="#000"/>
<circle cx="1098.3" cy="994.0" r="4.45" fill="#000"/>
<circle cx="1098.3" cy="1025.7" r="4.45" fill="#000"/>
<circle cx="1098.3" cy="1068.3" r="4.45" fill="#000"/>
<circle cx="1140.7" cy="965.3" r="4.45" fill="#000"/>
<circle cx="1140.7" cy="1000.7" r="4.45" fill="#000"/>
<circle cx="1140.7" cy="1063.3" r="4.45" fill="#000"/>
<text x="839.3" y="1210.0" font-size="24.8" text-anchor="end" fill="#000">0</text>
<text x="839.3" y="1165.8" font-size="24.8" text-anchor="end" fill="#000">10</text>
<text x="839.3" y="1121.6" font-size="24.8" text-anchor="end" fill="#000">20</text>
<text x="839.3" y="1077.5" font-size="24.8" text-anchor="end" fill="#000">30</text>
<text x="839.3" y="1033.3" font-size="24.8" text-anchor="end" fill="#000">40</text>
<text x="839.3" y="989.1" font-size="24.8" text-anchor="end" fill="#000">50</text>
<text x="839.3" y="944.9" font-size="24.8" text-anchor="end" fill="#000">60</text>
<text x="839.3" y="900.8" font-size="24.8" text-anchor="end" fill="#000">70</text>
<text x="839.3" y="856.6" font-size="24.8" text-anchor="end" fill="#000">80</text>
<rect x="866.5" y="850.8" width="12.9" height="13.5" fill="#5b87c5" stroke="#000" stroke-width="2.8" stroke-linejoin="round"/>
<text x="888.3" y="866.7" font-size="24.8" text-anchor="start" fill="#000">Normoxia</text>
<rect x="866.5" y="885.8" width="12.9" height="12.8" fill="#c5504c" stroke="#000" stroke-width="2.8" stroke-linejoin="round"/>
<text x="888.3" y="901.0" font-size="24.8" text-anchor="start" fill="#000">Hypoxia</text>
<text x="1018.7" y="816.2" font-size="24.8" text-anchor="middle" fill="#000">NODAL 298</text>
<text x="903.3" y="1233.3" font-size="24.8" text-anchor="middle" fill="#000">Mono</text>
<text x="1012.2" y="1233.3" font-size="24.8" text-anchor="middle" fill="#000">Low MW</text>
<text x="1118.3" y="1233.3" font-size="24.8" text-anchor="middle" fill="#000">High MW</text>
<rect x="1255.0" y="1171.7" width="42.7" height="31.6" fill="#5b87c5" stroke="#000" stroke-width="3.0" stroke-linejoin="round"/>
<rect x="1297.7" y="1185.7" width="43.3" height="17.6" fill="#c5504c" stroke="#000" stroke-width="3.0" stroke-linejoin="round"/>
<rect x="1361.7" y="1087.7" width="42.3" height="115.6" fill="#5b87c5" stroke="#000" stroke-width="3.0" stroke-linejoin="round"/>
<rect x="1404.0" y="999.3" width="43.3" height="204.0" fill="#c5504c" stroke="#000" stroke-width="3.0" stroke-linejoin="round"/>
<rect x="1468.3" y="906.0" width="42.3" height="297.3" fill="#5b87c5" stroke="#000" stroke-width="3.0" stroke-linejoin="round"/>
<rect x="1510.7" y="986.7" width="42.7" height="216.6" fill="#c5504c" stroke="#000" stroke-width="3.0" stroke-linejoin="round"/>
<line x1="1245.7" y1="849.3" x2="1245.7" y2="1204.9" stroke="#000" stroke-width="3.3"/>
<line x1="1244.1" y1="1203.3" x2="1563.3" y2="1203.3" stroke="#000" stroke-width="3.3"/>
<line x1="1277.3" y1="1150.0" x2="1277.3" y2="1171.7" stroke="#000" stroke-width="3.0"/>
<line x1="1267.7" y1="1150.0" x2="1286.9" y2="1150.0" stroke="#000" stroke-width="3.0"/>
<line x1="1320.0" y1="1176.7" x2="1320.0" y2="1185.7" stroke="#000" stroke-width="3.0"/>
<line x1="1310.4" y1="1176.7" x2="1329.6" y2="1176.7" stroke="#000" stroke-width="3.0"/>
<line x1="1383.3" y1="1056.7" x2="1383.3" y2="1087.7" stroke="#000" stroke-width="3.0"/>
<line x1="1373.7" y1="1056.7" x2="1392.9" y2="1056.7" stroke="#000" stroke-width="3.0"/>
<line x1="1426.0" y1="955.3" x2="1426.0" y2="999.3" stroke="#000" stroke-width="3.0"/>
<line x1="1416.4" y1="955.3" x2="1435.6" y2="955.3" stroke="#000" stroke-width="3.0"/>
<line x1="1489.3" y1="875.3" x2="1489.3" y2="906.0" stroke="#000" stroke-width="3.0"/>
<line x1="1479.7" y1="875.3" x2="1498.9" y2="875.3" stroke="#000" stroke-width="3.0"/>
<line x1="1532.0" y1="946.7" x2="1532.0" y2="986.7" stroke="#000" stroke-width="3.0"/>
<line x1="1522.4" y1="946.7" x2="1541.6" y2="946.7" stroke="#000" stroke-width="3.0"/>
<circle cx="1277.3" cy="1165.7" r="4.45" fill="#000"/>
<circle cx="1277.3" cy="1170.0" r="4.45" fill="#000"/>
<circle cx="1277.3" cy="1187.7" r="4.45" fill="#000"/>
<circle cx="1320.7" cy="1176.0" r="4.45" fill="#000"/>
<circle cx="1320.7" cy="1185.0" r="4.45" fill="#000"/>
<circle cx="1320.7" cy="1190.7" r="4.45" fill="#000"/>
<circle cx="1383.7" cy="1057.7" r="4.45" fill="#000"/>
<circle cx="1383.7" cy="1080.0" r="4.45" fill="#000"/>
<circle cx="1383.7" cy="1129.3" r="4.45" fill="#000"/>
<circle cx="1426.0" cy="950.0" r="4.45" fill="#000"/>
<circle cx="1426.0" cy="986.0" r="4.45" fill="#000"/>
<circle cx="1426.0" cy="1042.3" r="4.45" fill="#000"/>
<circle cx="1489.3" cy="874.3" r="4.45" fill="#000"/>
<circle cx="1489.3" cy="918.3" r="4.45" fill="#000"/>
<circle cx="1489.3" cy="923.3" r="4.45" fill="#000"/>
<circle cx="1532.0" cy="951.0" r="4.45" fill="#000"/>
<circle cx="1532.0" cy="1002.7" r="4.45" fill="#000"/>
<circle cx="1532.0" cy="1029.0" r="4.45" fill="#000"/>
<polyline points="1382.3,1042.3 1382.3,935.7 1426.7,935.7 1426.7,945.7" fill="none" stroke="#000" stroke-width="3.0"/>
<polyline points="1487.7,864.0 1487.7,857.3 1531.7,857.3 1531.7,929.0" fill="none" stroke="#000" stroke-width="3.0"/>
<text x="1405.0" y="935.3" font-size="35" text-anchor="middle" fill="#000" stroke="#000" stroke-width="0.2">*</text>
<text x="1508.7" y="855.3" font-size="35" text-anchor="middle" fill="#000" stroke="#000" stroke-width="0.2">*</text>
<text x="1231.7" y="1211.6" font-size="24.8" text-anchor="end" fill="#000">0</text>
<text x="1231.7" y="1167.4" font-size="24.8" text-anchor="end" fill="#000">10</text>
<text x="1231.7" y="1123.3" font-size="24.8" text-anchor="end" fill="#000">20</text>
<text x="1231.7" y="1079.1" font-size="24.8" text-anchor="end" fill="#000">30</text>
<text x="1231.7" y="1034.9" font-size="24.8" text-anchor="end" fill="#000">40</text>
<text x="1231.7" y="990.8" font-size="24.8" text-anchor="end" fill="#000">50</text>
<text x="1231.7" y="946.6" font-size="24.8" text-anchor="end" fill="#000">60</text>
<text x="1231.7" y="902.4" font-size="24.8" text-anchor="end" fill="#000">70</text>
<text x="1231.7" y="858.3" font-size="24.8" text-anchor="end" fill="#000">80</text>
<rect x="1262.5" y="852.1" width="12.9" height="13.1" fill="#5b87c5" stroke="#000" stroke-width="2.8" stroke-linejoin="round"/>
<text x="1284.3" y="867.7" font-size="24.8" text-anchor="start" fill="#000">Normoxia</text>
<rect x="1262.5" y="887.1" width="12.9" height="13.1" fill="#c5504c" stroke="#000" stroke-width="2.8" stroke-linejoin="round"/>
<text x="1284.3" y="902.3" font-size="24.8" text-anchor="start" fill="#000">Hypoxia</text>
<text x="1373.0" y="816.2" font-size="24.8" text-anchor="middle" fill="#000">NODAL 416</text>
<text x="1295.0" y="1233.3" font-size="24.8" text-anchor="middle" fill="#000">Mono</text>
<text x="1404.2" y="1233.3" font-size="24.8" text-anchor="middle" fill="#000">Low MW</text>
<text x="1510.0" y="1233.3" font-size="24.8" text-anchor="middle" fill="#000">High MW</text>
<text x="-1.0" y="31.7" font-size="41.5" text-anchor="start" fill="#000" font-weight="bold">a</text>
<rect x="365.6" y="49.5" width="6.9" height="21.3" fill="#c5e88f"/>
<rect x="372.3" y="49.5" width="83.2" height="21.3" fill="#74a4d6"/>
<text x="461.0" y="69.0" font-size="24.8" text-anchor="start" fill="#2f4696">NANOG</text>
<rect x="32.6" y="74.8" width="77.6" height="20.7" fill="#c5e88f"/>
<line x1="34.6" y1="85.2" x2="102.8" y2="85.2" stroke="#fff" stroke-width="2.5" stroke-dasharray="18.4,4,3,4" stroke-dashoffset="12"/>
<polyline points="89.9,74.5 105.8,85.2 89.1,95.8" fill="none" stroke="#fff" stroke-width="2.3"/>
<rect x="309.3" y="74.8" width="78.8" height="20.9" fill="#c5e88f"/>
<line x1="311.3" y1="85.2" x2="380.7" y2="85.2" stroke="#fff" stroke-width="2.5" stroke-dasharray="9,5.9,2.4,5.6" stroke-dashoffset="5.1"/>
<polyline points="367.8,74.5 383.7,85.2 367.0,96.0" fill="none" stroke="#fff" stroke-width="2.3"/>
<text x="390.5" y="93.7" font-size="24.8" text-anchor="start" fill="#4a8a2a">CAGE TSS HMM</text>
<text x="390.8" y="124.0" font-size="24.8" text-anchor="start" fill="#4a8a2a">(ENCODE/RIKEN)</text>
<rect x="43.8" y="135.4" width="139.8" height="17.2" fill="#000"/>
<rect x="247.6" y="135.4" width="35.4" height="17.2" fill="#000"/>
<rect x="356.4" y="136.1" width="11.4" height="17.8" fill="#000"/>
<line x1="187.0" y1="144.9" x2="247.6" y2="144.9" stroke="#000" stroke-width="2.8" stroke-dasharray="7.6,4.8"/>
<line x1="286.9" y1="144.9" x2="357.0" y2="144.9" stroke="#000" stroke-width="2.8" stroke-dasharray="8.2,6.6"/>
<polyline points="331.6,129.4 356.6,144.8 332.2,159.8" fill="none" stroke="#000" stroke-width="2.5"/>
<text x="376.1" y="155.0" font-size="24.8" text-anchor="start" fill="#000">350</text>
<rect x="215.6" y="159.4" width="151.7" height="17.1" fill="#000"/>
<text x="376.1" y="178.6" font-size="24.8" text-anchor="start" fill="#000">291</text>
<text x="639.0" y="31.7" font-size="41.5" text-anchor="start" fill="#000" font-weight="bold">b</text>
<rect x="1017.4" y="45.5" width="6.1" height="21.9" fill="#aed136"/>
<rect x="1023.0" y="45.5" width="91.4" height="21.9" fill="#74a4d6"/>
<text x="1119.0" y="65.7" font-size="24.8" text-anchor="start" fill="#2f4696">SNAIL</text>
<rect x="656.8" y="73.5" width="81.9" height="21.9" fill="#c5e88f"/>
<line x1="658.8" y1="84.5" x2="731.3" y2="84.5" stroke="#fff" stroke-width="2.5" stroke-dasharray="9,5.9,2.4,5.6" stroke-dashoffset="5.1"/>
<polyline points="718.4,73.2 734.3,84.5 717.6,95.7" fill="none" stroke="#fff" stroke-width="2.3"/>
<rect x="914.6" y="73.5" width="123.0" height="21.9" fill="#c5e88f"/>
<line x1="916.6" y1="84.5" x2="1030.2" y2="84.5" stroke="#fff" stroke-width="2.5" stroke-dasharray="9,5.9,2.4,5.6" stroke-dashoffset="5.1"/>
<polyline points="1017.3,73.2 1033.2,84.5 1016.5,95.7" fill="none" stroke="#fff" stroke-width="2.3"/>
<text x="1043.3" y="95.4" font-size="24.8" text-anchor="start" fill="#4a8a2a">CAGE TSS HMM</text>
<text x="1043.3" y="126.3" font-size="24.8" text-anchor="start" fill="#4a8a2a">(ENCODE/RIKEN)</text>
<rect x="697.3" y="136.5" width="327.7" height="17.8" fill="#000"/>
<text x="1032.5" y="155.0" font-size="24.8" text-anchor="start" fill="#000">417</text>
<rect x="905.2" y="162.4" width="119.8" height="18.2" fill="#000"/>
<text x="1032.5" y="181.3" font-size="24.8" text-anchor="start" fill="#000">85</text>
<text x="1289.5" y="31.2" font-size="41.5" text-anchor="start" fill="#000" font-weight="bold">c</text>
<rect x="1676.2" y="45.0" width="7.3" height="23.6" fill="#aed136"/>
<rect x="1683.1" y="45.0" width="95.3" height="23.6" fill="#74a4d6"/>
<text x="1781.9" y="66.9" font-size="24.8" text-anchor="start" fill="#2f4696">NODAL</text>
<rect x="1303.2" y="75.2" width="69.3" height="22.5" fill="#c5e88f"/>
<line x1="1305.2" y1="86.5" x2="1365.1" y2="86.5" stroke="#fff" stroke-width="2.5" stroke-dasharray="9,5.9,2.4,5.6" stroke-dashoffset="5.1"/>
<polyline points="1352.2,74.9 1368.1,86.5 1351.4,98.0" fill="none" stroke="#fff" stroke-width="2.3"/>
<rect x="1522.2" y="75.0" width="16.7" height="23.3" fill="#c5e88f"/>
<polygon points="1522.0,78.5 1522.0,81.5 1534.3,86.7 1522.0,91.9 1522.0,94.9 1537.3,86.7" fill="#fff"/>
<line x1="1526.0" y1="86.7" x2="1530.7" y2="86.7" stroke="#fff" stroke-width="2.3"/>
<rect x="1635.3" y="75.2" width="74.5" height="22.5" fill="#c5e88f"/>
<line x1="1637.3" y1="86.5" x2="1702.4" y2="86.5" stroke="#fff" stroke-width="2.5" stroke-dasharray="9,5.9,2.4,5.6" stroke-dashoffset="5.1"/>
<polyline points="1689.5,74.9 1705.4,86.5 1688.7,98.0" fill="none" stroke="#fff" stroke-width="2.3"/>
<text x="1715.0" y="94.3" font-size="24.8" text-anchor="start" fill="#4a8a2a">CAGE TSS HMM</text>
<text x="1715.0" y="124.8" font-size="24.8" text-anchor="start" fill="#4a8a2a">(ENCODE/RIKEN)</text>
<rect x="1321.6" y="140.4" width="147.3" height="19.0" fill="#000"/>
<rect x="1669.3" y="139.3" width="11.0" height="19.4" fill="#000"/>
<line x1="1473.0" y1="150.0" x2="1669.0" y2="150.0" stroke="#000" stroke-width="2.8" stroke-dasharray="7.6,4.8"/>
<polyline points="1643.3,135.9 1669.8,150.0 1645.7,162.2" fill="none" stroke="#000" stroke-width="2.5"/>
<text x="1685.5" y="157.7" font-size="24.8" text-anchor="start" fill="#000">416</text>
<rect x="1532.3" y="162.9" width="148.0" height="19.1" fill="#000"/>
<text x="1685.5" y="180.2" font-size="24.8" text-anchor="start" fill="#000">298</text>
<rect x="1650.2" y="185.4" width="30.1" height="18.4" fill="#000"/>
<text x="1685.5" y="202.8" font-size="24.8" text-anchor="start" fill="#000">42</text>
<rect x="1665.8" y="207.3" width="14.5" height="18.7" fill="#000"/>
<text x="1685.5" y="225.3" font-size="24.8" text-anchor="start" fill="#000">14</text>
<text x="264.0" y="299.0" font-size="41.5" text-anchor="start" fill="#000" font-weight="bold">d</text>
<text x="1017.5" y="299.0" font-size="41.5" text-anchor="start" fill="#000" font-weight="bold">e</text>
<text x="344.5" y="810.0" font-size="41.5" text-anchor="start" fill="#000" font-weight="bold">f</text>
<text x="-1.0" y="1321.0" font-size="41.5" text-anchor="start" fill="#000" font-weight="bold">g</text>
<text x="354.5" y="1321.0" font-size="41.5" text-anchor="start" fill="#000" font-weight="bold">h</text>
<text x="733.5" y="1321.0" font-size="41.5" text-anchor="start" fill="#000" font-weight="bold">i</text>
<text x="1176.0" y="1321.0" font-size="41.5" text-anchor="start" fill="#000" font-weight="bold">j</text>
<text x="1585.5" y="1321.0" font-size="41.5" text-anchor="start" fill="#000" font-weight="bold">k</text>
<rect x="212.4" y="1522.8" width="37.5" height="114.2" fill="#fff" stroke="#000" stroke-width="3.0" stroke-linejoin="round"/>
<rect x="249.9" y="1470.0" width="41.6" height="167.0" fill="#000"/>
<line x1="106.5" y1="1330.5" x2="106.5" y2="1638.7" stroke="#000" stroke-width="3.5"/>
<line x1="104.8" y1="1637.0" x2="300.0" y2="1637.0" stroke="#000" stroke-width="3.5"/>
<line x1="232.3" y1="1472.4" x2="232.3" y2="1522.8" stroke="#000" stroke-width="3.0"/>
<line x1="222.7" y1="1472.4" x2="241.9" y2="1472.4" stroke="#000" stroke-width="3.0"/>
<line x1="270.3" y1="1410.3" x2="270.3" y2="1469.9" stroke="#000" stroke-width="3.0"/>
<line x1="260.7" y1="1410.3" x2="279.9" y2="1410.3" stroke="#000" stroke-width="3.0"/>
<circle cx="230.6" cy="1442.3" r="4.45" fill="#000"/>
<circle cx="230.6" cy="1538.6" r="4.45" fill="#000"/>
<circle cx="230.6" cy="1549.9" r="4.45" fill="#000"/>
<circle cx="230.6" cy="1584.5" r="4.45" fill="#000"/>
<circle cx="270.3" cy="1377.7" r="4.45" fill="#000"/>
<circle cx="270.3" cy="1466.7" r="4.45" fill="#000"/>
<circle cx="270.3" cy="1521.6" r="4.45" fill="#fff"/>
<circle cx="270.3" cy="1558.4" r="4.45" fill="#fff"/>
<circle cx="127.0" cy="1637.0" r="4.45" fill="#000"/>
<circle cx="135.5" cy="1637.0" r="4.45" fill="#000"/>
<circle cx="144.0" cy="1637.0" r="4.45" fill="#000"/>
<circle cx="152.0" cy="1637.0" r="4.45" fill="#000"/>
<circle cx="165.7" cy="1637.0" r="4.45" fill="#000"/>
<circle cx="174.2" cy="1637.0" r="4.45" fill="#000"/>
<circle cx="182.7" cy="1637.0" r="4.45" fill="#000"/>
<circle cx="191.1" cy="1637.0" r="4.45" fill="#000"/>
<text x="92.0" y="1337.6" font-size="24.8" text-anchor="end" fill="#000">4</text>
<text x="92.0" y="1490.8" font-size="24.8" text-anchor="end" fill="#000">2</text>
<text x="92.0" y="1644.8" font-size="24.8" text-anchor="end" fill="#000">1</text>
<rect x="115.9" y="1336.3" width="12.6" height="12.6" fill="#fff" stroke="#000" stroke-width="2.9" stroke-linejoin="round"/>
<text x="137.9" y="1349.8" font-size="24.8" text-anchor="start" fill="#000">Nanog 291</text>
<rect x="114.9" y="1366.8" width="14.5" height="14.5" fill="#000"/>
<text x="137.9" y="1380.1" font-size="24.8" text-anchor="start" fill="#000">Nanog 350</text>
<text x="100.4" y="1668.8" font-size="24.8" text-anchor="start" fill="#000">Normoxia</text>
<text x="214.1" y="1668.8" font-size="24.8" text-anchor="start" fill="#000">Hypoxia</text>
<text x="231.1" y="1439.4" font-size="35" text-anchor="middle" fill="#000" stroke="#000" stroke-width="0.2">*</text>
<text x="270.5" y="1371.6" font-size="35" text-anchor="middle" fill="#000" stroke="#000" stroke-width="0.2">*</text>
<text transform="translate(20.6,1482.0) rotate(-90)" font-size="24.8" text-anchor="middle">Mean fold change in</text>
<text transform="translate(50.8,1482.0) rotate(-90)" font-size="24.8" text-anchor="middle">luciferase activity (log<tspan font-size="16.5" dy="8">2</tspan><tspan dy="-8">)</tspan></text>
<rect x="585.6" y="1474.5" width="46.0" height="157.7" fill="#fff" stroke="#000" stroke-width="3.0" stroke-linejoin="round"/>
<rect x="631.6" y="1559.1" width="47.2" height="73.1" fill="#000"/>
<line x1="460.3" y1="1340.2" x2="460.3" y2="1633.9" stroke="#000" stroke-width="3.5"/>
<line x1="458.6" y1="1632.2" x2="688.4" y2="1632.2" stroke="#000" stroke-width="3.5"/>
<line x1="609.1" y1="1433.3" x2="609.1" y2="1474.5" stroke="#000" stroke-width="3.0"/>
<line x1="599.5" y1="1433.3" x2="618.7" y2="1433.3" stroke="#000" stroke-width="3.0"/>
<line x1="654.5" y1="1550.7" x2="654.5" y2="1559.1" stroke="#000" stroke-width="3.0"/>
<line x1="644.9" y1="1550.7" x2="664.1" y2="1550.7" stroke="#000" stroke-width="3.0"/>
<circle cx="609.8" cy="1417.6" r="4.45" fill="#000"/>
<circle cx="609.8" cy="1497.4" r="4.45" fill="#000"/>
<circle cx="609.8" cy="1522.8" r="4.45" fill="#000"/>
<circle cx="654.5" cy="1548.3" r="4.45" fill="#000"/>
<circle cx="654.5" cy="1561.6" r="4.45" fill="#fff"/>
<circle cx="654.5" cy="1573.7" r="4.45" fill="#fff"/>
<circle cx="488.8" cy="1632.2" r="4.45" fill="#000"/>
<circle cx="497.3" cy="1632.2" r="4.45" fill="#000"/>
<circle cx="505.7" cy="1632.2" r="4.45" fill="#000"/>
<circle cx="514.2" cy="1632.2" r="4.45" fill="#000"/>
<circle cx="527.5" cy="1632.2" r="4.45" fill="#000"/>
<circle cx="536.0" cy="1632.2" r="4.45" fill="#000"/>
<circle cx="544.5" cy="1632.2" r="4.45" fill="#000"/>
<circle cx="552.9" cy="1632.2" r="4.45" fill="#000"/>
<text x="446.0" y="1348.3" font-size="24.8" text-anchor="end" fill="#000">4</text>
<text x="446.0" y="1494.8" font-size="24.8" text-anchor="end" fill="#000">2</text>
<text x="446.0" y="1640.5" font-size="24.8" text-anchor="end" fill="#000">1</text>
<rect x="471.6" y="1341.6" width="12.6" height="12.1" fill="#fff" stroke="#000" stroke-width="2.9" stroke-linejoin="round"/>
<text x="494.4" y="1354.7" font-size="24.8" text-anchor="start" fill="#000">SNAIL 85</text>
<rect x="470.7" y="1371.1" width="14.5" height="14.0" fill="#000"/>
<text x="494.4" y="1384.9" font-size="24.8" text-anchor="start" fill="#000">SNAIL 417</text>
<text x="468.2" y="1663.2" font-size="24.8" text-anchor="start" fill="#000">Normoxia</text>
<text x="589.2" y="1663.2" font-size="24.8" text-anchor="start" fill="#000">Hypoxia</text>
<text x="609.1" y="1409.1" font-size="24.8" text-anchor="middle" fill="#000">b</text>
<text x="654.5" y="1530.1" font-size="24.8" text-anchor="middle" fill="#000">c</text>
<text x="500.2" y="1622.1" font-size="24.8" text-anchor="middle" fill="#000">a</text>
<text x="538.9" y="1622.1" font-size="24.8" text-anchor="middle" fill="#000">a</text>
<text transform="translate(375.0,1485.5) rotate(-90)" font-size="24.8" text-anchor="middle">Mean fold change in</text>
<text transform="translate(404.0,1485.5) rotate(-90)" font-size="24.8" text-anchor="middle">luciferase activity (log<tspan font-size="16.5" dy="8">2</tspan><tspan dy="-8">)</tspan></text>
<rect x="1000.2" y="1481.7" width="31.5" height="73.1" fill="#fff" stroke="#000" stroke-width="3.0" stroke-linejoin="round"/>
<rect x="1031.6" y="1492.6" width="30.7" height="62.2" fill="#d9d8d6" stroke="#000" stroke-width="3.0" stroke-linejoin="round"/>
<rect x="1062.4" y="1431.6" width="33.1" height="123.2" fill="#000"/>
<rect x="1095.5" y="1433.8" width="30.5" height="121.0" fill="#7d7373" stroke="#000" stroke-width="3.0" stroke-linejoin="round"/>
<line x1="851.9" y1="1343.8" x2="851.9" y2="1652.3" stroke="#000" stroke-width="3.5"/>
<line x1="850.2" y1="1554.8" x2="1133.3" y2="1554.8" stroke="#000" stroke-width="3.5"/>
<line x1="1015.7" y1="1429.0" x2="1015.7" y2="1481.7" stroke="#000" stroke-width="3.0"/>
<line x1="1006.1" y1="1429.0" x2="1025.3" y2="1429.0" stroke="#000" stroke-width="3.0"/>
<line x1="1047.4" y1="1461.9" x2="1047.4" y2="1492.6" stroke="#000" stroke-width="3.0"/>
<line x1="1037.8" y1="1461.9" x2="1057.0" y2="1461.9" stroke="#000" stroke-width="3.0"/>
<line x1="1079.3" y1="1376.5" x2="1079.3" y2="1431.6" stroke="#000" stroke-width="3.0"/>
<line x1="1069.7" y1="1376.5" x2="1088.9" y2="1376.5" stroke="#000" stroke-width="3.0"/>
<line x1="1109.6" y1="1378.9" x2="1109.6" y2="1433.8" stroke="#000" stroke-width="3.0"/>
<line x1="1100.0" y1="1378.9" x2="1119.2" y2="1378.9" stroke="#000" stroke-width="3.0"/>
<circle cx="1015.7" cy="1424.9" r="4.45" fill="#000"/>
<circle cx="1015.7" cy="1434.0" r="4.45" fill="#000"/>
<circle cx="1015.7" cy="1534.9" r="4.45" fill="#000"/>
<circle cx="1015.7" cy="1602.2" r="4.45" fill="#000"/>
<circle cx="1047.9" cy="1452.0" r="4.45" fill="#000"/>
<circle cx="1047.9" cy="1497.9" r="4.45" fill="#000"/>
<circle cx="1047.9" cy="1504.7" r="4.45" fill="#000"/>
<circle cx="1079.8" cy="1341.6" r="4.45" fill="#000"/>
<circle cx="1079.8" cy="1452.0" r="4.45" fill="#fff"/>
<circle cx="1079.8" cy="1497.4" r="4.45" fill="#fff"/>
<circle cx="1079.8" cy="1504.7" r="4.45" fill="#fff"/>
<circle cx="1109.6" cy="1339.7" r="4.45" fill="#000"/>
<circle cx="1109.6" cy="1453.4" r="4.45" fill="#000"/>
<circle cx="1109.6" cy="1487.0" r="4.45" fill="#000"/>
<circle cx="1109.6" cy="1530.1" r="4.45" fill="#000"/>
<circle cx="862.8" cy="1554.8" r="4.45" fill="#000"/>
<circle cx="870.0" cy="1554.8" r="4.45" fill="#000"/>
<circle cx="877.3" cy="1554.8" r="4.45" fill="#000"/>
<circle cx="884.5" cy="1554.8" r="4.45" fill="#000"/>
<circle cx="897.1" cy="1554.8" r="4.45" fill="#000"/>
<circle cx="904.4" cy="1554.8" r="4.45" fill="#000"/>
<circle cx="911.6" cy="1554.8" r="4.45" fill="#000"/>
<circle cx="918.4" cy="1554.8" r="4.45" fill="#000"/>
<circle cx="931.2" cy="1554.8" r="4.45" fill="#000"/>
<circle cx="938.5" cy="1554.8" r="4.45" fill="#000"/>
<circle cx="945.5" cy="1554.8" r="4.45" fill="#000"/>
<circle cx="952.3" cy="1554.8" r="4.45" fill="#000"/>
<circle cx="964.4" cy="1554.8" r="4.45" fill="#000"/>
<circle cx="971.6" cy="1554.8" r="4.45" fill="#000"/>
<circle cx="978.9" cy="1554.8" r="4.45" fill="#000"/>
<circle cx="985.7" cy="1554.8" r="4.45" fill="#000"/>
<text x="838.0" y="1367.8" font-size="24.8" text-anchor="end" fill="#000">4</text>
<text x="838.0" y="1465.8" font-size="24.8" text-anchor="end" fill="#000">2</text>
<text x="838.0" y="1562.5" font-size="24.8" text-anchor="end" fill="#000">1</text>
<text x="838.0" y="1660.6" font-size="24.8" text-anchor="end" fill="#000">0.5</text>
<rect x="866.9" y="1354.4" width="11.9" height="12.1" fill="#fff" stroke="#000" stroke-width="2.9" stroke-linejoin="round"/>
<text x="888.9" y="1366.8" font-size="24.8" text-anchor="start" fill="#000">Nodal 14</text>
<rect x="866.9" y="1383.0" width="11.9" height="11.9" fill="#d9d8d6" stroke="#000" stroke-width="2.9" stroke-linejoin="round"/>
<text x="888.9" y="1395.8" font-size="24.8" text-anchor="start" fill="#000">Nodal 42</text>
<rect x="865.9" y="1411.1" width="13.8" height="13.8" fill="#000"/>
<text x="888.9" y="1424.4" font-size="24.8" text-anchor="start" fill="#000">Nodal 298</text>
<rect x="866.9" y="1440.8" width="11.9" height="12.1" fill="#7d7373" stroke="#000" stroke-width="2.9" stroke-linejoin="round"/>
<text x="888.9" y="1453.2" font-size="24.8" text-anchor="start" fill="#000">Nodal 416</text>
<text x="870.0" y="1663.2" font-size="24.8" text-anchor="start" fill="#000">Normoxia</text>
<text x="1019.5" y="1663.2" font-size="24.8" text-anchor="start" fill="#000">Hypoxia</text>
<text x="1079.3" y="1339.0" font-size="35" text-anchor="middle" fill="#000" stroke="#000" stroke-width="0.2">*</text>
<text x="1109.6" y="1335.3" font-size="35" text-anchor="middle" fill="#000" stroke="#000" stroke-width="0.2">*</text>
<text x="1047.9" y="1447.1" font-size="35" text-anchor="middle" fill="#000" stroke="#000" stroke-width="0.2">*</text>
<text transform="translate(753.9,1496.8) rotate(-90)" font-size="24.8" text-anchor="middle">Mean fold change in</text>
<text transform="translate(783.4,1497.8) rotate(-90)" font-size="24.8" text-anchor="middle">luciferase activity (log<tspan font-size="16.5" dy="8">2</tspan><tspan dy="-8">)</tspan></text>
<rect x="1383.8" y="1378.9" width="32.2" height="254.0" fill="#fff" stroke="#000" stroke-width="3.0" stroke-linejoin="round"/>
<rect x="1416.0" y="1490.2" width="31.9" height="142.7" fill="#000"/>
<rect x="1463.2" y="1510.8" width="33.1" height="122.1" fill="#fff" stroke="#000" stroke-width="3.0" stroke-linejoin="round"/>
<rect x="1496.3" y="1589.4" width="32.2" height="43.5" fill="#000"/>
<line x1="1295.5" y1="1326.1" x2="1295.5" y2="1634.6" stroke="#000" stroke-width="3.5"/>
<line x1="1293.8" y1="1632.9" x2="1536.2" y2="1632.9" stroke="#000" stroke-width="3.5"/>
<line x1="1399.5" y1="1356.4" x2="1399.5" y2="1378.9" stroke="#000" stroke-width="3.0"/>
<line x1="1389.9" y1="1356.4" x2="1409.1" y2="1356.4" stroke="#000" stroke-width="3.0"/>
<line x1="1431.5" y1="1451.5" x2="1431.5" y2="1490.2" stroke="#000" stroke-width="3.0"/>
<line x1="1421.9" y1="1451.5" x2="1441.1" y2="1451.5" stroke="#000" stroke-width="3.0"/>
<line x1="1479.9" y1="1476.9" x2="1479.9" y2="1510.8" stroke="#000" stroke-width="3.0"/>
<line x1="1470.3" y1="1476.9" x2="1489.5" y2="1476.9" stroke="#000" stroke-width="3.0"/>
<line x1="1512.1" y1="1578.0" x2="1512.1" y2="1589.4" stroke="#000" stroke-width="3.0"/>
<line x1="1502.5" y1="1578.0" x2="1521.7" y2="1578.0" stroke="#000" stroke-width="3.0"/>
<circle cx="1400.0" cy="1343.3" r="4.45" fill="#000"/>
<circle cx="1400.0" cy="1381.3" r="4.45" fill="#000"/>
<circle cx="1400.0" cy="1397.0" r="4.45" fill="#000"/>
<circle cx="1400.0" cy="1403.8" r="4.45" fill="#000"/>
<circle cx="1431.5" cy="1438.6" r="4.45" fill="#000"/>
<circle cx="1431.5" cy="1470.8" r="4.45" fill="#000"/>
<circle cx="1431.5" cy="1544.6" r="4.45" fill="#fff"/>
<circle cx="1431.5" cy="1548.7" r="4.45" fill="#fff"/>
<circle cx="1479.9" cy="1460.4" r="4.45" fill="#000"/>
<circle cx="1479.9" cy="1513.9" r="4.45" fill="#000"/>
<circle cx="1479.9" cy="1531.3" r="4.45" fill="#000"/>
<circle cx="1479.9" cy="1565.2" r="4.45" fill="#000"/>
<circle cx="1512.1" cy="1576.8" r="4.45" fill="#000"/>
<circle cx="1512.1" cy="1582.1" r="4.45" fill="#000"/>
<circle cx="1512.1" cy="1596.2" r="4.45" fill="#fff"/>
<circle cx="1512.1" cy="1610.7" r="4.45" fill="#fff"/>
<circle cx="1306.4" cy="1632.9" r="4.45" fill="#000"/>
<circle cx="1314.9" cy="1632.9" r="4.45" fill="#000"/>
<circle cx="1323.3" cy="1632.9" r="4.45" fill="#000"/>
<circle cx="1331.8" cy="1632.9" r="4.45" fill="#000"/>
<circle cx="1345.1" cy="1632.9" r="4.45" fill="#000"/>
<circle cx="1353.6" cy="1632.9" r="4.45" fill="#000"/>
<circle cx="1362.0" cy="1632.9" r="4.45" fill="#000"/>
<circle cx="1370.5" cy="1632.9" r="4.45" fill="#000"/>
<text x="1280.3" y="1334.3" font-size="24.8" text-anchor="end" fill="#000">16</text>
<text x="1280.3" y="1410.9" font-size="24.8" text-anchor="end" fill="#000">8</text>
<text x="1280.3" y="1487.6" font-size="24.8" text-anchor="end" fill="#000">4</text>
<text x="1280.3" y="1564.3" font-size="24.8" text-anchor="end" fill="#000">2</text>
<text x="1280.3" y="1641.3" font-size="24.8" text-anchor="end" fill="#000">1</text>
<rect x="1310.5" y="1318.1" width="12.6" height="12.6" fill="#fff" stroke="#000" stroke-width="2.9" stroke-linejoin="round"/>
<text x="1332.3" y="1331.7" font-size="24.8" text-anchor="start" fill="#000">ATF4</text>
<rect x="1411.6" y="1317.2" width="14.5" height="14.5" fill="#000"/>
<text x="1434.1" y="1331.7" font-size="24.8" text-anchor="start" fill="#000">Mut ATF4</text>
<text x="1287.5" y="1663.2" font-size="24.8" text-anchor="start" fill="#000">Normoxia</text>
<text x="1402.7" y="1663.2" font-size="24.8" text-anchor="start" fill="#000">TG</text>
<text x="1457.1" y="1663.2" font-size="24.8" text-anchor="start" fill="#000">Hypoxia</text>
<text x="1426.2" y="1429.7" font-size="35" text-anchor="middle" fill="#000" stroke="#000" stroke-width="0.2">*</text>
<text x="1439.5" y="1429.7" font-size="35" text-anchor="middle" fill="#000" stroke="#000" stroke-width="0.2">*</text>
<text x="1512.1" y="1569.5" font-size="35" text-anchor="middle" fill="#000" stroke="#000" stroke-width="0.2">*</text>
<text transform="translate(1197.5,1478.7) rotate(-90)" font-size="24.8" text-anchor="middle">Fold change in</text>
<text transform="translate(1227.7,1480.0) rotate(-90)" font-size="24.8" text-anchor="middle">luciferase activity (log<tspan font-size="16.5" dy="8">2</tspan><tspan dy="-8">)</tspan></text>
<rect x="1766.9" y="1480.5" width="54.0" height="123.9" fill="#000"/>
<rect x="1844.3" y="1426.1" width="51.5" height="54.4" fill="#fff" stroke="#000" stroke-width="3.0" stroke-linejoin="round"/>
<rect x="1894.4" y="1480.5" width="53.2" height="72.1" fill="#000"/>
<line x1="1705.2" y1="1325.2" x2="1705.2" y2="1635.4" stroke="#000" stroke-width="3.5"/>
<line x1="1703.5" y1="1480.5" x2="1960.0" y2="1480.5" stroke="#000" stroke-width="3.5"/>
<line x1="1794.7" y1="1616.0" x2="1794.7" y2="1604.4" stroke="#000" stroke-width="3.0"/>
<line x1="1785.1" y1="1616.0" x2="1804.3" y2="1616.0" stroke="#000" stroke-width="3.0"/>
<line x1="1870.2" y1="1415.7" x2="1870.2" y2="1426.1" stroke="#000" stroke-width="3.0"/>
<line x1="1860.6" y1="1415.7" x2="1879.8" y2="1415.7" stroke="#000" stroke-width="3.0"/>
<line x1="1921.7" y1="1570.0" x2="1921.7" y2="1552.6" stroke="#000" stroke-width="3.0"/>
<line x1="1912.1" y1="1570.0" x2="1931.3" y2="1570.0" stroke="#000" stroke-width="3.0"/>
<circle cx="1794.7" cy="1591.8" r="4.45" fill="#fff"/>
<circle cx="1794.7" cy="1598.6" r="4.45" fill="#fff"/>
<circle cx="1794.7" cy="1620.8" r="4.45" fill="#000"/>
<circle cx="1870.2" cy="1418.8" r="4.45" fill="#000"/>
<circle cx="1870.9" cy="1442.3" r="4.45" fill="#000"/>
<circle cx="1872.1" cy="1443.7" r="4.45" fill="#000"/>
<circle cx="1921.7" cy="1535.4" r="4.45" fill="#fff"/>
<circle cx="1921.7" cy="1545.1" r="4.45" fill="#fff"/>
<circle cx="1921.7" cy="1575.6" r="4.45" fill="#000"/>
<circle cx="1724.5" cy="1480.5" r="4.45" fill="#000"/>
<circle cx="1733.0" cy="1480.5" r="4.45" fill="#000"/>
<circle cx="1741.5" cy="1480.5" r="4.45" fill="#000"/>
<circle cx="1749.9" cy="1480.5" r="4.45" fill="#000"/>
<text x="1690.7" y="1333.5" font-size="24.8" text-anchor="end" fill="#000">2</text>
<text x="1690.7" y="1487.9" font-size="24.8" text-anchor="end" fill="#000">1</text>
<text x="1690.7" y="1643.2" font-size="24.8" text-anchor="end" fill="#000">0.5</text>
<rect x="1758.9" y="1306.8" width="11.9" height="11.9" fill="#fff" stroke="#000" stroke-width="2.9" stroke-linejoin="round"/>
<text x="1779.5" y="1319.6" font-size="24.8" text-anchor="start" fill="#000">298</text>
<rect x="1834.1" y="1305.8" width="14.5" height="13.8" fill="#000"/>
<text x="1857.6" y="1319.6" font-size="24.8" text-anchor="start" fill="#000">Mut298</text>
<text x="1716.1" y="1659.6" font-size="24.8" text-anchor="start" fill="#000">Normoxia</text>
<text x="1850.8" y="1659.6" font-size="24.8" text-anchor="start" fill="#000">Hypoxia</text>
<text x="1734.7" y="1464.8" font-size="24.8" text-anchor="middle" fill="#000">a</text>
<text x="1792.3" y="1468.9" font-size="24.8" text-anchor="middle" fill="#000">b</text>
<text x="1869.0" y="1405.5" font-size="24.8" text-anchor="middle" fill="#000">c</text>
<text x="1920.5" y="1470.8" font-size="24.8" text-anchor="middle" fill="#000">b</text>
<text transform="translate(1605.3,1481.7) rotate(-90)" font-size="24.8" text-anchor="middle">Fold change in luciferase</text>
<text transform="translate(1635.5,1482.3) rotate(-90)" font-size="24.8" text-anchor="middle">activity (log<tspan font-size="16.5" dy="8">2</tspan><tspan dy="-8">)</tspan></text>
</svg>
</body></html>
